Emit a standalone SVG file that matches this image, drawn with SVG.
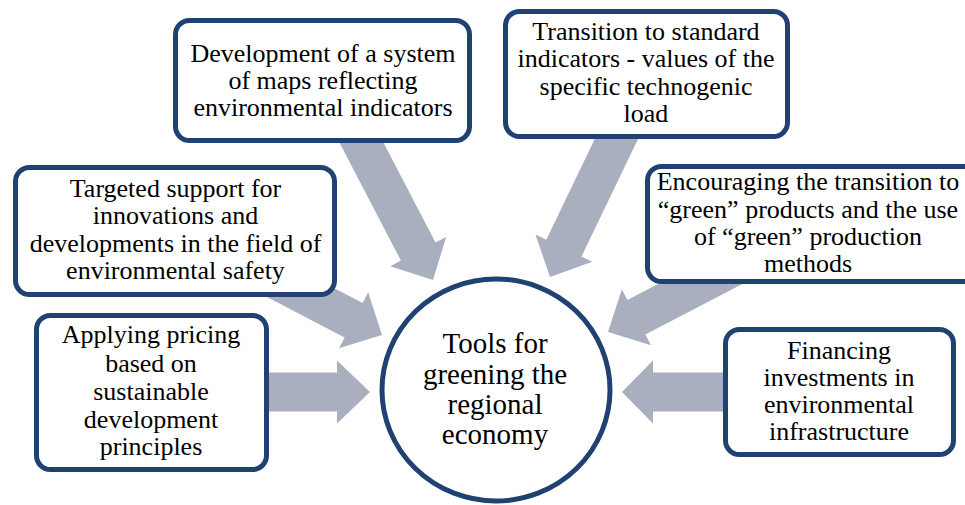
<svg xmlns="http://www.w3.org/2000/svg" width="965" height="505" viewBox="0 0 965 505">
<style>
.box{fill:#ffffff;stroke:#1F4273;stroke-width:5}
.arrow{fill:#A9AFBF;stroke:none}
.t{font-size:26px;fill:#000;text-anchor:middle}
.c{font-size:29px;fill:#000;text-anchor:middle}
</style>
<rect width="965" height="505" fill="#ffffff"/>
<g id="connectors">
  <polygon class="arrow" transform="translate(433,280) rotate(62.5)" points="-170,-19.5 -32,-19.5 -32,-31.5 0,0 -32,31.5 -32,19.5 -170,19.5"/>
  <polygon class="arrow" transform="translate(550,277) rotate(115.7)" points="-165,-19.5 -32,-19.5 -32,-31.5 0,0 -32,31.5 -32,19.5 -165,19.5"/>
  <polygon class="arrow" transform="translate(382,335) rotate(27.5)" points="-150,-19.5 -32,-19.5 -32,-31.5 0,0 -32,31.5 -32,19.5 -150,19.5"/>
  <polygon class="arrow" transform="translate(608,332) rotate(152.5)" points="-150,-19.5 -32,-19.5 -32,-31.5 0,0 -32,31.5 -32,19.5 -150,19.5"/>
  <polygon class="arrow" transform="translate(370,392) rotate(0)" points="-120,-19.5 -33,-19.5 -33,-31.5 0,0 -33,31.5 -33,19.5 -120,19.5"/>
  <polygon class="arrow" transform="translate(622,392) rotate(180)" points="-120,-19.5 -31,-19.5 -31,-31.5 0,0 -31,31.5 -31,19.5 -120,19.5"/>
</g>
<g font-family="'Liberation Serif', 'Times New Roman', Times, serif">
<g id="node-maps">
  <rect class="box" x="175.5" y="20.5" width="294" height="120" rx="14"/>
  <text class="t" x="323" y="62">Development of a system</text>
  <text class="t" x="323" y="89">of maps reflecting</text>
  <text class="t" x="323" y="116">environmental indicators</text>
</g>
<g id="node-transition">
  <rect class="box" x="505.5" y="11.5" width="282" height="125" rx="14"/>
  <text class="t" x="646" y="39.5">Transition to standard</text>
  <text class="t" x="646" y="67">indicators - values of the</text>
  <text class="t" x="646" y="94.5">specific technogenic</text>
  <text class="t" x="646" y="122">load</text>
</g>
<g id="node-targeted">
  <rect class="box" x="15.5" y="167.5" width="319" height="127" rx="14"/>
  <text class="t" x="175.5" y="197">Targeted support for</text>
  <text class="t" x="175.5" y="224">innovations and</text>
  <text class="t" x="175.5" y="251.5">developments in the field of</text>
  <text class="t" x="175.5" y="278.5">environmental safety</text>
</g>
<g id="node-green">
  <rect class="box" x="647.5" y="166.5" width="330" height="115" rx="14"/>
  <text class="t" x="808" y="190">Encouraging the transition to</text>
  <text class="t" x="808" y="218">“green” products and the use</text>
  <text class="t" x="808" y="245">of “green” production</text>
  <text class="t" x="808" y="272">methods</text>
</g>
<g id="node-pricing">
  <rect class="box" x="36.5" y="315.5" width="230" height="154" rx="14"/>
  <text class="t" x="151" y="343">Applying pricing</text>
  <text class="t" x="151" y="371.5">based on</text>
  <text class="t" x="151" y="400">sustainable</text>
  <text class="t" x="151" y="427.5">development</text>
  <text class="t" x="151" y="455">principles</text>
</g>
<g id="node-financing">
  <rect class="box" x="725.5" y="329.5" width="228" height="125" rx="14"/>
  <text class="t" x="839" y="359">Financing</text>
  <text class="t" x="839" y="386">investments in</text>
  <text class="t" x="839" y="413">environmental</text>
  <text class="t" x="839" y="440">infrastructure</text>
</g>
<g id="node-center">
  <ellipse class="box" cx="496" cy="390" rx="114" ry="111"/>
  <text class="c" x="495" y="353">Tools for</text>
  <text class="c" x="495" y="383.5">greening the</text>
  <text class="c" x="495" y="414">regional</text>
  <text class="c" x="495" y="444">economy</text>
</g>
</g>
</svg>
